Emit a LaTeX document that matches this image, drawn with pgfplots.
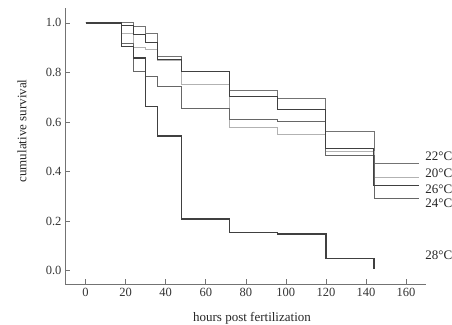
\documentclass[border=0pt]{standalone}
\usepackage{fontspec}
\setmainfont{Liberation Serif}
\usepackage{pgfplots}
\pgfplotsset{compat=1.18}
\begin{document}
\begin{tikzpicture}
\useasboundingbox (0,0) rectangle (452pt,324pt);
\begin{axis}[
  at={(65pt,39.7pt)}, anchor=south west,
  scale only axis, width=361pt, height=276.3pt,
  xmin=-10.3, xmax=170, ymin=-0.055, ymax=1.06,
  axis x line=bottom, axis y line=left,
  axis line style={-, draw=black!55, line width=0.6pt},
  every tick/.style={draw=black!55, line width=0.6pt},
  tick align=inside, major tick length=5pt,
  xtick={0,20,...,160}, ytick={0,0.2,...,1.0},
  yticklabel style={/pgf/number format/.cd, fixed, fixed zerofill, precision=1},
  /pgf/number format/assume math mode=true,
  tick label style={font=\fontsize{12.5}{14}\selectfont, text=black!80},
  xlabel={hours post fertilization}, ylabel={cumulative survival},
  every axis x label/.style={at={(rel axis cs:0.518,0)}, anchor=center, yshift=-34pt, font=\fontsize{13}{15}\selectfont, text=black!85},
  every axis y label/.style={at={(rel axis cs:0,0.555)}, anchor=center, xshift=-43pt, rotate=90, font=\fontsize{13}{15}\selectfont, text=black!85},
  clip=false,
]
% 22 C
\addplot[const plot, draw=black!55, line width=0.8pt] coordinates {
(0,1) (18,1.0) (24,0.986) (30,0.959) (36,0.865) (48,0.804) (72,0.727) (96,0.697) (120,0.562) (144,0.434) (166.7,0.434)};
% 20 C
\addplot[const plot, draw=black!30, line width=0.8pt] coordinates {
(0,1) (18,0.959) (24,0.899) (30,0.892) (36,0.850) (48,0.750) (72,0.578) (96,0.551) (120,0.481) (144,0.376) (166.7,0.376)};
% 24 C
\addplot[const plot, draw=black!60, line width=0.8pt] coordinates {
(0,1) (18,0.919) (24,0.804) (30,0.784) (36,0.743) (48,0.656) (72,0.609) (96,0.602) (120,0.467) (144,0.290) (166.7,0.290)};
% 26 C
\addplot[const plot, draw=black!75, line width=0.9pt] coordinates {
(0,1) (18,0.989) (24,0.952) (30,0.919) (36,0.853) (48,0.804) (72,0.703) (96,0.649) (120,0.494) (144,0.343) (166.7,0.343)};
% 28 C
\addplot[const plot, draw=black!75, line width=1.3pt] coordinates {
(0,1) (18,0.905) (24,0.858) (30,0.663) (36,0.544) (48,0.209) (72,0.155) (96,0.148) (120,0.048) (144,0.007)};
\begin{scope}[every node/.style={anchor=west, font=\fontsize{13}{15}\selectfont, text=black!85, inner sep=0pt}]
\node at (axis cs:169.6,0.461) {22°C};
\node at (axis cs:169.6,0.395) {20°C};
\node at (axis cs:169.6,0.330) {26°C};
\node at (axis cs:169.6,0.274) {24°C};
\node at (axis cs:169.6,0.062) {28°C};
\end{scope}
\end{axis}
\end{tikzpicture}
\end{document}
